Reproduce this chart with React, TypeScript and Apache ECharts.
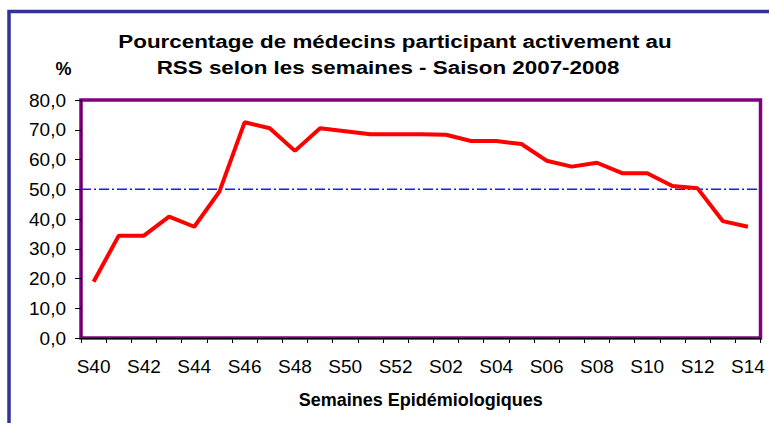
import React, { useEffect, useRef } from "react";
import * as echarts from "echarts";

const weeks = [
  "S40", "S41", "S42", "S43", "S44", "S45", "S46", "S47", "S48", "S49", "S50", "S51", "S52",
  "S01", "S02", "S03", "S04", "S05", "S06", "S07", "S08", "S09", "S10", "S11", "S12", "S13", "S14",
];
const participation = [
  18.9, 34.4, 34.4, 40.8, 37.4, 49.2, 72.5, 70.5, 62.9, 70.5, 69.5, 68.5, 68.5,
  68.5, 68.3, 66.2, 66.2, 65.2, 59.6, 57.6, 58.9, 55.4, 55.4, 51.1, 50.3, 39.3, 37.4,
];
const thresholdValue = 50;
const titleLine1 = "Pourcentage de médecins participant activement au";
const titleLine2 = "RSS selon les semaines - Saison 2007-2008";
const xAxisTitle = "Semaines Epidémiologiques";
const yAxisUnit = "%";

const FONT = "'Liberation Sans', Arial, sans-serif";

export default function App() {
  const ref = useRef<HTMLDivElement>(null);
  useEffect(() => {
    if (!ref.current) return;
    const chart = echarts.init(ref.current, null, { renderer: "svg" });
    chart.setOption({
      animation: false,
      backgroundColor: "#ffffff",
      grid: {
        left: 81,
        right: 8.5,
        top: 100,
        bottom: 85,
        show: true,
        borderColor: "#800080",
        borderWidth: 3.5,
        backgroundColor: "transparent",
      },
      xAxis: [
        {
          type: "category",
          data: weeks,
          boundaryGap: true,
          name: xAxisTitle,
          nameLocation: "middle",
          nameGap: 53,
          nameTextStyle: { fontFamily: FONT, fontSize: 18, fontWeight: "bold", color: "#000" },
          axisLine: { show: true, lineStyle: { color: "#000", width: 1 } },
          axisTick: { show: true, interval: 0, alignWithLabel: false, length: 5, lineStyle: { color: "#000" } },
          axisLabel: { interval: 1, fontFamily: FONT, fontSize: 19, color: "#000", margin: 19 },
          splitLine: { show: false },
        },
        {
          type: "value",
          min: 0,
          max: 1,
          show: false,
          position: "top",
        },
      ],
      yAxis: {
        type: "value",
        min: 0,
        max: 80,
        interval: 10,
        axisLine: { show: true, lineStyle: { color: "#000", width: 1 } },
        axisTick: { show: true, length: 6, lineStyle: { color: "#000" } },
        axisLabel: {
          fontFamily: FONT,
          fontSize: 19,
          color: "#000",
          margin: 15,
          formatter: (v: number) => v.toFixed(1).replace(".", ","),
        },
        splitLine: { show: false },
      },
      series: [
        {
          type: "line",
          xAxisIndex: 1,
          data: [
            [0, thresholdValue],
            [1, thresholdValue],
          ],
          symbol: "none",
          silent: true,
          lineStyle: { color: "#1a1aff", width: 1.5, type: [10, 3, 2, 3] },
          itemStyle: { color: "#1a1aff" },
          z: 2,
        },
        {
          type: "line",
          data: participation,
          symbol: "none",
          lineStyle: { color: "#ff0000", width: 4 },
          itemStyle: { color: "#ff0000" },
          z: 3,
        },
      ],
      graphic: [
        {
          type: "rect",
          z: 0,
          silent: true,
          shape: { x: 9, y: 11.5, width: 800, height: 500 },
          style: { fill: "none", stroke: "#333399", lineWidth: 3.5 },
        },
        {
          type: "text",
          x: 395,
          y: 41.5,
          scaleX: 1.28,
          style: {
            text: titleLine1,
            fontFamily: FONT,
            fontSize: 17.5,
            fontWeight: "bold",
            fill: "#000",
            textAlign: "center",
            align: "center",
            textVerticalAlign: "middle",
            verticalAlign: "middle",
          },
        },
        {
          type: "text",
          x: 388,
          y: 67.5,
          scaleX: 1.28,
          style: {
            text: titleLine2,
            fontFamily: FONT,
            fontSize: 17.5,
            fontWeight: "bold",
            fill: "#000",
            textAlign: "center",
            align: "center",
            textVerticalAlign: "middle",
            verticalAlign: "middle",
          },
        },
        {
          type: "text",
          x: 63.5,
          y: 69,
          style: {
            text: yAxisUnit,
            fontFamily: FONT,
            fontSize: 18,
            fontWeight: "bold",
            fill: "#000",
            textAlign: "center",
            align: "center",
            textVerticalAlign: "middle",
            verticalAlign: "middle",
          },
        },
      ],
    });
    return () => chart.dispose();
  }, []);
  return (
    <div
      ref={ref}
      style={{ position: "absolute", left: 0, top: 0, width: 769, height: 423 }}
    />
  );
}
